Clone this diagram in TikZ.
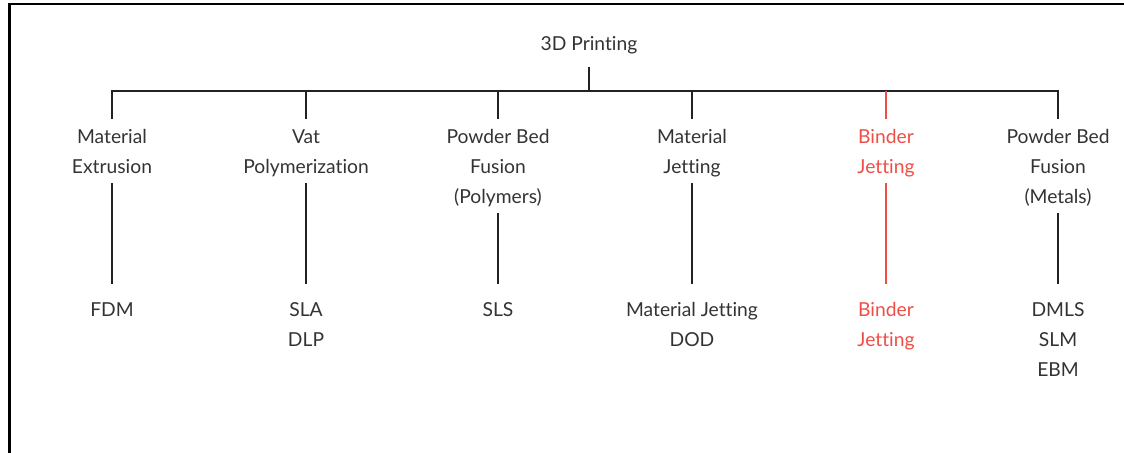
\documentclass[tikz,border=0pt]{standalone}
\usepackage{fontspec}
\setmainfont{Lato}[Ligatures={CommonOff,RareOff}]
\definecolor{ink}{HTML}{333333}
\definecolor{wire}{HTML}{222222}
\definecolor{hot}{HTML}{EF4E47}
% struts that fix the first baseline below a node's top
\newcommand\catstrut{\rule{0pt}{17.6pt}}
\newcommand\techstrut{\rule{0pt}{23.2pt}}

\begin{document}
\begin{tikzpicture}[x=0.025cm, y=-0.025cm,
  lbl/.style={inner sep=0pt, outer sep=0pt, align=center, text=ink, font=\fontsize{13.7}{21.34}\selectfont},
  root/.style={lbl, anchor=south, text depth=11.7pt},
  cat/.style={lbl, anchor=north, execute at end node=\rule[-6.6pt]{0pt}{6.6pt}},
  leaf/.style={lbl, anchor=north},
  link/.style={draw=wire, line width=1.4pt},
  hotlink/.style={draw=hot, line width=1.1pt}]
\useasboundingbox (0,0) rectangle (1124,453);
% open frame, left and top edges only
\draw[line width=1.6pt] (9.5,453) -- (9.5,4) -- (1124,4);

\node[root] (top) at (589,67) {3D Printing};
\coordinate (bar) at (589,91);

% process families
\node[cat] (c1) at (112,119) {\catstrut Material\\Extrusion};
\node[cat] (c2) at (306,119) {\catstrut Vat\\Polymerization};
\node[cat] (c3) at (498,119) {\catstrut Powder Bed\\Fusion\\(Polymers)};
\node[cat] (c4) at (692,119) {\catstrut Material\\Jetting};
\node[cat, text=hot] (c5) at (886,119) {\catstrut Binder\\Jetting};
\node[cat] (c6) at (1058,119) {\catstrut Powder Bed\\Fusion\\(Metals)};

% technologies
\node[leaf] (t1) at (112,284) {\techstrut FDM};
\node[leaf] (t2) at (306,284) {\techstrut SLA\\DLP};
\node[leaf] (t3) at (498,284) {\techstrut SLS};
\node[leaf] (t4) at (692,284) {\techstrut Material Jetting\\DOD};
\node[leaf, text=hot] (t5) at (886,284) {\techstrut Binder\\Jetting};
\node[leaf] (t6) at (1058,284) {\techstrut DMLS\\SLM\\EBM};

\draw[link] (top) -- (bar);
\draw[link] (c1) |- (bar) -| (c6);
\draw[link] (c2) -- (c2 |- bar);
\draw[link] (c3) -- (c3 |- bar);
\draw[link] (c4) -- (c4 |- bar);
\draw[hotlink] (c5) -- (c5 |- bar);

\draw[link] (c1) -- (t1);
\draw[link] (c2) -- (t2);
\draw[link] (c3) -- (t3);
\draw[link] (c4) -- (t4);
\draw[hotlink] (c5) -- (t5);
\draw[link] (c6) -- (t6);
\end{tikzpicture}
\end{document}
